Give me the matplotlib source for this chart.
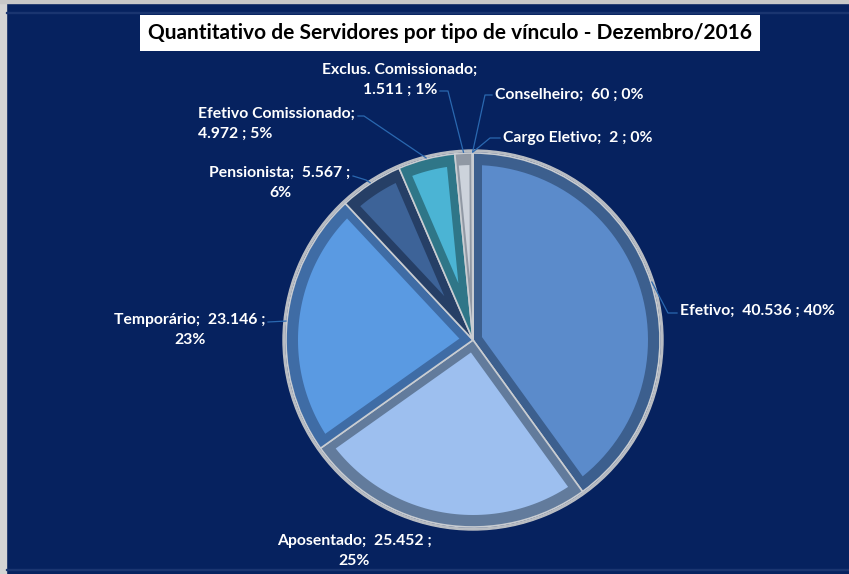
import numpy as np
import matplotlib.pyplot as plt
from matplotlib.patches import Wedge, Polygon, Rectangle

# dados do gráfico
categorias = ["Efetivo", "Aposentado", "Temporário", "Pensionista",
              "Efetivo Comissionado", "Exclus. Comissionado", "Conselheiro", "Cargo Eletivo"]
quantidades = [40536, 25452, 23146, 5567, 4972, 1511, 60, 2]
percentuais = [40, 25, 23, 6, 5, 1, 0, 0]
titulo = "Quantitativo de Servidores por tipo de vínculo - Dezembro/2016"

# cores (face, bisel)
cores_face = ["#5B8BCB", "#9DBFEF", "#5A9AE2", "#3D6398", "#4BB4D4", "#CDD3DC", "#8E96A2", "#A3ABB8"]
cores_bisel = ["#3C5F8E", "#627B9C", "#3F6CA5", "#263F66", "#2F7688", "#9098A4", "#6C737E", "#7D8591"]

W, H = 849, 574
CX, CY, R = 473, 340, 190
NAVY = "#06225F"
LEADER = "#2A68B0"

plt.rcParams['font.family'] = ['Lato', 'DejaVu Sans']

fig = plt.figure(figsize=(W / 100, H / 100), dpi=100, facecolor=NAVY)
ax = fig.add_axes([0, 0, 1, 1])
ax.set_xlim(0, W)
ax.set_ylim(0, H)
ax.set_aspect('equal')
ax.axis('off')


def py(y):
    # coordenada de pixel (a partir do topo) -> dados
    return H - y


# moldura
ax.add_patch(Rectangle((0, 0), 6, H, color="#D4D4D4", zorder=0))
ax.add_patch(Rectangle((0, py(3)), W, 3, color="#C8C8C8", zorder=0))
ax.add_patch(Rectangle((6, py(13)), W, 1, color="#1A3570", zorder=0))
ax.add_patch(Rectangle((6, 4), W, 1.5, color="#1A3570", zorder=0))

total = sum(quantidades)
fracs = np.array(quantidades) / total
acum = np.concatenate([[0], np.cumsum(fracs)])

# aro externo cinza
ax.add_patch(Wedge((CX, py(CY)), R, 0, 360, color="#B9BDC3", zorder=1))
ax.add_patch(Wedge((CX, py(CY)), R - 3, 0, 360, color=NAVY, zorder=1))

meio = []
for i in range(len(quantidades)):
    t1 = 90 - 360 * acum[i + 1]
    t2 = 90 - 360 * acum[i]
    meio.append(np.radians((t1 + t2) / 2))
    ax.add_patch(Wedge((CX, py(CY)), R - 3, t1, t2, facecolor=cores_bisel[i],
                       edgecolor="#C9CDD2", linewidth=1.2, zorder=2))
    # face interna
    r_arc = R - 15
    half = np.radians(t2 - t1) / 2
    inset = min(9, 0.35 * r_arc * np.sin(half))
    if inset < 0.6:
        continue
    apex_d = inset / np.sin(half) if half < np.pi / 2 else inset
    d = np.degrees(np.arcsin(inset / r_arc))
    ang = np.radians(np.linspace(t1 + d, t2 - d, 60))
    m = np.radians((t1 + t2) / 2)
    pts = [(CX + apex_d * np.cos(m), py(CY) + apex_d * np.sin(m))]
    pts += list(zip(CX + r_arc * np.cos(ang), py(CY) + r_arc * np.sin(ang)))
    ax.add_patch(Polygon(pts, closed=True, facecolor=cores_face[i], edgecolor='none', zorder=3))

# título
ax.text(450, py(33), titulo, ha='center', va='center', fontsize=15, fontweight='bold',
        color='black', zorder=5,
        bbox=dict(boxstyle='square,pad=0.38', facecolor='white', edgecolor='none'))


def fmt(v):
    return f"{v:,}".replace(",", ".")


# rótulos: (x, y, ha, quebra de linha, ponto do rótulo para o conector, cotovelo)
rot_layout = [
    (680, 311, 'left', None, (677, 313), (668, 313)),
    (354, 551, 'center', 1, None, None),
    (190, 330, 'center', 1, (268, 322), None),
    (280, 183, 'center', 1, (353, 176), (366, 180)),
    (198, 124, 'left', 0, (358, 116), (364, 116)),
    (400, 80, 'center', 0, (440, 91), (448, 91)),
    (495, 95, 'left', None, (492, 95), (485, 95)),
    (503, 138, 'left', None, (500, 138), (490, 138)),
]

for i, (x, y, ha, quebra, p0, cot) in enumerate(rot_layout):
    if quebra is None:
        txt = f"{categorias[i]};  {fmt(quantidades[i])} ; {percentuais[i]}%"
    elif quebra == 0:
        txt = f"{categorias[i]};\n{fmt(quantidades[i])} ; {percentuais[i]}%"
    else:
        txt = f"{categorias[i]};  {fmt(quantidades[i])} ;\n{percentuais[i]}%"
    ax.text(x, py(y), txt, ha=ha, va='center', multialignment=ha, fontsize=11.3,
            fontweight='bold', color='white', linespacing=1.5, zorder=5)
    if p0 is not None:
        ex = CX + (R - 2) * np.cos(meio[i])
        ey = py(CY) + (R - 2) * np.sin(meio[i])
        xs = [p0[0]] + ([cot[0]] if cot else []) + [ex]
        ys = [py(p0[1])] + ([py(cot[1])] if cot else []) + [ey]
        ax.plot(xs, ys, color=LEADER, linewidth=0.9, zorder=4)

fig.savefig("out.png", dpi=100, facecolor=NAVY)
